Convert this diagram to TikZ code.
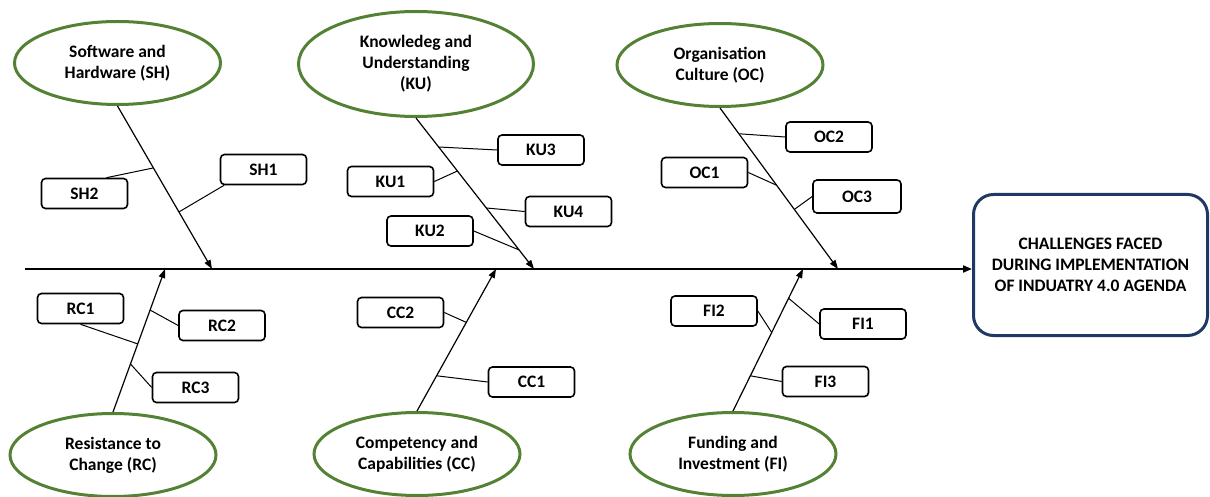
\documentclass[tikz,border=0pt]{standalone}
\usepackage{fontspec}
\setmainfont{Carlito}
\usetikzlibrary{shapes.geometric,arrows.meta,calc}

\definecolor{causegreen}{HTML}{548235}
\definecolor{effectblue}{HTML}{1F3864}

\begin{document}
\begin{tikzpicture}[x=1pt, y=-1pt,
  txt/.style={font=\fontsize{17.5}{21}\selectfont\bfseries, align=center},
  cause/.style={txt, ellipse, draw=causegreen, line width=3pt, inner sep=0pt,
                minimum width=206pt, minimum height=83pt},
  item/.style={txt, draw, rounded corners=4pt, line width=1.6pt, inner sep=0pt,
               minimum width=86pt, minimum height=30pt},
  effect/.style={txt, draw=effectblue, rounded corners=20pt, line width=3pt,
                 inner sep=0pt, minimum width=234pt, minimum height=141pt},
  spine/.style={line width=2pt, -{Triangle[length=9pt,width=7pt]}},
  bone/.style={line width=1.2pt, -{Triangle[length=9pt,width=6.5pt]}},
  twig/.style={line width=1pt}]

\useasboundingbox (0,0) rectangle (1210,497);

% effect box and main spine
\node[effect] (main) at (1090.5,265) {CHALLENGES FACED\\DURING IMPLEMENTATION\\OF INDUATRY 4.0 AGENDA};
\coordinate (tail) at (25,269);
\draw[spine] (tail) -- (main.west |- tail);

% cause categories
\node[cause] (sh) at (117.5,63) {Software and\\Hardware (SH)};
\node[cause, minimum width=235pt, minimum height=105pt] (ku) at (416,64) {Knowledeg and\\Understanding\\(KU)};
\node[cause] (oc) at (720,65) {Organisation\\Culture (OC)};
\node[cause] (rc) at (113,455) {Resistance to\\Change (RC)};
\node[cause] (cc) at (417,454) {Competency and\\Capabilities (CC)};
\node[cause] (fi) at (733,454) {Funding and\\Investment (FI)};

% points where the bones meet the spine
\coordinate (shT) at (212,269);
\coordinate (kuT) at (534,269);
\coordinate (ocT) at (838,269);
\coordinate (rcT) at (165,269);
\coordinate (ccT) at (496,269);
\coordinate (fiT) at (803,269);

\draw[bone] (sh.south) -- (shT);
\draw[bone] (ku.south) -- (kuT);
\draw[bone] (oc.south) -- (ocT);
\draw[bone] (rc.north) -- (rcT);
\draw[bone] (cc.north) -- (ccT);
\draw[bone] (fi.north) -- (fiT);

% sub-causes
\node[item] (sh1) at (263.5,169.5) {SH1};
\node[item] (sh2) at (84.5,193.5) {SH2};
\node[item] (ku1) at (390.5,181.5) {KU1};
\node[item] (ku2) at (430,231) {KU2};
\node[item] (ku3) at (541,150) {KU3};
\node[item] (ku4) at (568.5,211.5) {KU4};
\node[item] (oc1) at (704.5,172.5) {OC1};
\node[item] (oc2) at (829,137) {OC2};
\node[item, minimum width=88pt, minimum height=33pt] (oc3) at (857,196.5) {OC3};
\node[item] (rc1) at (80.5,308.5) {RC1};
\node[item] (rc2) at (222,325.5) {RC2};
\node[item] (rc3) at (195.5,387.5) {RC3};
\node[item] (cc1) at (531.5,382) {CC1};
\node[item] (cc2) at (400.5,312.5) {CC2};
\node[item] (fi1) at (863,324) {FI1};
\node[item] (fi2) at (714,311) {FI2};
\node[item] (fi3) at (825.5,381.5) {FI3};

% twigs joining sub-causes to their bones
\draw[twig] ($(sh2.north)!0.5!(sh2.north east)$) -- ($(sh.south)!0.38!(shT)$);
\draw[twig] ($(sh1.south west)!0.1!(sh1.south)$) -- ($(sh.south)!0.65!(shT)$);

\draw[twig] (ku3.west) -- ($(ku.south)!0.192!(kuT)$);
\draw[twig] (ku1.east) -- ($(ku.south)!0.351!(kuT)$);
\draw[twig] (ku4.west) -- ($(ku.south)!0.596!(kuT)$);
\draw[twig] (ku2.east) -- ($(ku.south)!0.874!(kuT)$);

\draw[twig] (oc2.west) -- ($(oc.south)!0.16!(ocT)$);
\draw[twig] (oc1.east) -- ($(oc.south)!0.48!(ocT)$);
\draw[twig] (oc3.west) -- ($(oc.south)!0.63!(ocT)$);

\draw[twig] (rc2.west) -- ($(rc.north)!0.713!(rcT)$);
\draw[twig] (rc1.south) -- ($(rc.north)!0.476!(rcT)$);
\draw[twig] (rc3.west) -- ($(rc.north)!0.336!(rcT)$);

\draw[twig] (cc2.east) -- ($(cc.north)!0.624!(ccT)$);
\draw[twig] (cc1.west) -- ($(cc.north)!0.248!(ccT)$);

\draw[twig] (fi1.west) -- ($(fi.north)!0.794!(fiT)$);
\draw[twig] (fi2.east) -- ($(fi.north)!0.553!(fiT)$);
\draw[twig] (fi3.west) -- ($(fi.north)!0.248!(fiT)$);

\end{tikzpicture}
\end{document}
